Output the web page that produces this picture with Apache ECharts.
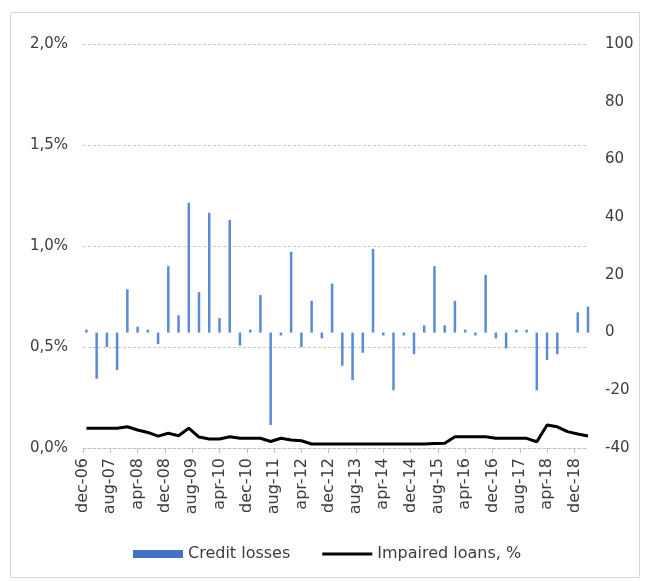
<!DOCTYPE html>
<html>
<head>
<meta charset="utf-8">
<script src="https://cdn.jsdelivr.net/npm/echarts@6/dist/echarts.min.js"></script>
<style>
html,body{margin:0;padding:0;background:#fff;}
#chart{width:645px;height:581px;}
</style>
</head>
<body>
<div id="chart"></div>
<script>
// Month abbreviations used for the monthly category axis
const monthNames = ['jan','feb','mar','apr','maj','jun','jul','aug','sep','okt','nov','dec'];
// Axis runs monthly from dec-06 to apr-19; labels every 8 months
const axisStart = { year: 2006, month: 11 };
const axisMonths = 149;
const labelEvery = 8;
// Quarterly observations start at jan-07, one every 3 months
const firstObsMonth = 'jan-07';
const obsStep = 3;

// Credit losses (right axis), quarterly
const creditLosses = [1, -16, -5, -13, 15, 2, 1, -4, 23, 6,
  45, 14, 41.5, 5, 39, -4.5, 1, 13, -32, -1,
  28, -5, 11, -2, 17, -11.5, -16.5, -7, 29, -1,
  -20, -1, -7.5, 2.5, 23, 2.5, 11, 1, -1, 20,
  -2, -5.5, 1, 1, -20, -9.5, -7.5, 0, 7, 9];
// Impaired loans, % (left axis), quarterly
const impairedLoans = [0.098, 0.098, 0.098, 0.098, 0.105, 0.089, 0.077, 0.059, 0.073, 0.061,
  0.098, 0.054, 0.045, 0.045, 0.056, 0.048, 0.048, 0.048, 0.032, 0.048,
  0.040, 0.036, 0.020, 0.020, 0.020, 0.020, 0.020, 0.020, 0.020, 0.020,
  0.020, 0.020, 0.020, 0.020, 0.022, 0.024, 0.056, 0.056, 0.056, 0.056,
  0.048, 0.048, 0.048, 0.048, 0.031, 0.114, 0.105, 0.081, 0.069, 0.059];

const leftTicks = { min: 0, max: 2, interval: 0.5 };
const rightTicks = { min: -40, max: 100, interval: 20 };

// Build categories
const categories = [];
for (let i = 0; i < axisMonths; i++) {
  const t = axisStart.month + i;
  const y = axisStart.year + Math.floor(t / 12);
  const m = t % 12;
  categories.push(monthNames[m] + '-' + String(y % 100).padStart(2, '0'));
}
const firstIdx = categories.indexOf(firstObsMonth);
const barData = categories.map(() => null);
const lineData = categories.map(() => null);
creditLosses.forEach((v, k) => { barData[firstIdx + k * obsStep] = v; });
impairedLoans.forEach((v, k) => { lineData[firstIdx + k * obsStep] = v; });

const txt = '#3c3c3c';
const font = 'DejaVu Sans';
const chart = echarts.init(document.getElementById('chart'));
chart.setOption({
  animation: false,
  backgroundColor: '#fff',
  graphic: [{
    type: 'rect', left: 8, top: 10, silent: true,
    shape: { width: 629, height: 565 },
    style: { fill: 'none', stroke: '#d9d9d9', lineWidth: 1 }
  }],
  grid: { left: 83, right: 57, top: 44, bottom: 133, containLabel: false },
  legend: {
    left: 128, top: 541, itemWidth: 50, itemHeight: 8, itemGap: 32,
    textStyle: { color: txt, fontFamily: font, fontSize: 16 },
    data: [
      { name: 'Credit losses', icon: 'rect', itemStyle: { color: '#4472C4' } },
      { name: 'Impaired loans, %', icon: 'path://M0,0H50V3H0Z', itemStyle: { color: '#000' } }
    ]
  },
  xAxis: {
    type: 'category', data: categories, boundaryGap: false,
    axisLine: { onZero: false, lineStyle: { color: '#bfbfbf', type: [3, 2] } },
    axisTick: { show: true, interval: labelEvery - 1, length: 5, lineStyle: { color: '#bfbfbf' } },
    axisLabel: { interval: labelEvery - 1, rotate: 90, margin: 10, color: txt, fontFamily: font, fontSize: 16 },
    splitLine: { show: false }
  },
  yAxis: [{
    type: 'value', position: 'left', min: leftTicks.min, max: leftTicks.max, interval: leftTicks.interval,
    axisLine: { show: false }, axisTick: { show: false },
    axisLabel: { margin: 15, color: txt, fontFamily: font, fontSize: 15,
      formatter: v => v.toFixed(1).replace('.', ',') + '%' },
    splitLine: { show: true, lineStyle: { color: '#c8c8c8', type: [3, 2] } }
  }, {
    type: 'value', position: 'right', min: rightTicks.min, max: rightTicks.max, interval: rightTicks.interval,
    axisLine: { show: false }, axisTick: { show: false },
    axisLabel: { margin: 17, color: txt, fontFamily: font, fontSize: 15 },
    splitLine: { show: false }
  }],
  series: [{
    name: 'Credit losses', type: 'bar', yAxisIndex: 1, data: barData,
    barWidth: 2.5, itemStyle: { color: '#5b8ad6' }
  }, {
    name: 'Impaired loans, %', type: 'line', yAxisIndex: 0, data: lineData,
    connectNulls: true, symbol: 'none', showSymbol: false,
    lineStyle: { color: '#000', width: 3 }, itemStyle: { color: '#000' }, z: 5
  }]
});
</script>
</body>
</html>
